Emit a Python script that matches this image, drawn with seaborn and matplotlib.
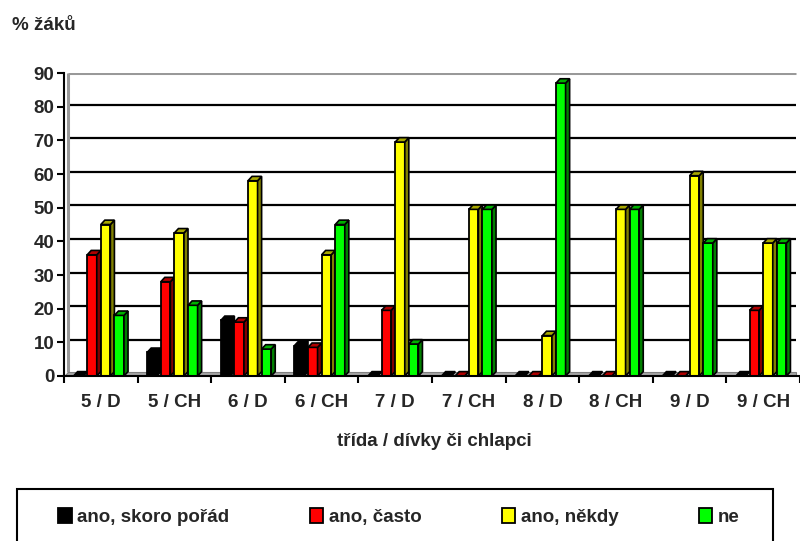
import numpy as np
import pandas as pd
import matplotlib
matplotlib.use("Agg")
import matplotlib.pyplot as plt
import seaborn as sns
from matplotlib.patches import Polygon, Rectangle

# data (% of pupils)
categories = ["5 / D", "5 / CH", "6 / D", "6 / CH", "7 / D",
              "7 / CH", "8 / D", "8 / CH", "9 / D", "9 / CH"]
series = ["ano, skoro pořád", "ano, často", "ano, někdy", "ne"]
skoro_porad = [0, 7, 16.5, 9, 0, 0, 0, 0, 0, 0]
casto = [36, 28, 16, 8.5, 19.5, 0, 0, 0, 0, 19.5]
nekdy = [45, 42.5, 58, 36, 69.5, 49.5, 12, 49.5, 59.5, 39.5]
ne = [18, 21, 8, 45, 9.5, 49.5, 87, 49.5, 39.5, 39.5]
yticks = list(range(0, 91, 10))

colors = ["#000000", "#FF0000", "#FFFF00", "#00FF00"]
top_colors = ["#000000", "#B00000", "#A8A800", "#00B000"]
side_colors = ["#000000", "#800000", "#808000", "#008000"]

df = pd.DataFrame({
    "trida": categories * 4,
    "odpoved": np.repeat(series, len(categories)),
    "pct": skoro_porad + casto + nekdy + ne,
})

sns.set_style("white")
plt.rcParams["font.family"] = ["Liberation Sans", "DejaVu Sans"]
plt.rcParams["font.weight"] = "bold"
fs = 13.5

fig = plt.figure(figsize=(8, 5.41), dpi=100)
ax = fig.add_axes([0.08, 0.305, 0.92, 0.56])

sns.barplot(data=df, x="trida", y="pct", hue="odpoved", hue_order=series,
            palette=colors, width=0.74, saturation=1, edgecolor="black",
            linewidth=1.3, ax=ax)

x0, x1 = -0.5, 9.446
dx, dy = 0.055, 1.3
ax.set_xlim(x0, x1)
ax.set_ylim(0, 90)

# 3d look: side and top faces for every bar
for i, cont in enumerate(ax.containers):
    for rect in cont:
        rect.set_zorder(3 + i)
        w = rect.get_width() - dx
        rect.set_width(w)
        x = rect.get_x()
        h = rect.get_height()
        side = Polygon([(x + w, 0), (x + w + dx, dy), (x + w + dx, h + dy), (x + w, h)],
                       closed=True, facecolor=side_colors[i], edgecolor="black",
                       linewidth=1.2, zorder=3.5 + i)
        top = Polygon([(x, h), (x + w, h), (x + w + dx, h + dy), (x + dx, h + dy)],
                      closed=True, facecolor=top_colors[i], edgecolor="black",
                      linewidth=1.2, zorder=3.5 + i)
        ax.add_patch(side)
        ax.add_patch(top)

# floor and back wall
ax.add_patch(Polygon([(x0, 0), (x1, 0), (x1, dy), (x0 + dx, dy)], closed=True,
                     facecolor="#A6A6A6", edgecolor="#808080", linewidth=0.8, zorder=2))
ax.hlines([v + dy * 0.5 for v in yticks[1:-1]], x0 + dx, x1, colors="black",
          linewidth=1.6, zorder=1)
ax.hlines(yticks[-1], x0 + dx, x1, colors="#999999", linewidth=2.2, zorder=1)
ax.vlines(x0 + dx, dy, yticks[-1], colors="#999999", linewidth=2.2, zorder=1)

ax.set_yticks(yticks)
ax.set_xticks(range(len(categories)))
ax.set_xticklabels(categories)
ax.set_xticks(np.arange(len(categories) + 1) - 0.5, minor=True)
ax.tick_params(axis="x", which="major", length=0, pad=13, labelsize=fs)
ax.tick_params(axis="x", which="minor", length=5, width=1.5, color="black", bottom=True)
ax.tick_params(axis="y", length=5, width=1.5, color="black", left=True, labelsize=fs, pad=2)
for lab in ax.get_xticklabels() + ax.get_yticklabels():
    lab.set_fontweight("bold")

for s in ["top", "right"]:
    ax.spines[s].set_visible(False)
ax.spines["left"].set_linewidth(1.5)
ax.spines["left"].set_color("black")
ax.spines["bottom"].set_linewidth(1.5)
ax.spines["bottom"].set_color("black")
ax.spines["bottom"].set_zorder(10)

ax.set_xlabel("")
ax.set_ylabel("")
fig.text(434 / 800, 1 - 442 / 541, "třída / dívky či chlapci", ha="center", va="center",
         fontsize=fs, fontweight="bold")
fig.text(12 / 800, 1 - 26 / 541, "% žáků", ha="left", va="center",
         fontsize=fs, fontweight="bold")

# legend
handles, labels = ax.get_legend_handles_labels()
ax.get_legend().remove()
fig.patches.append(Rectangle((17 / 800, -0.1), (773 - 17) / 800, 1 - 489 / 541 + 0.1,
                             transform=fig.transFigure, facecolor="white",
                             edgecolor="black", linewidth=1.5, clip_on=False))
leg = fig.legend(handles, labels, loc="center", ncol=4, frameon=False,
                 bbox_to_anchor=(399 / 800, 1 - 517 / 541), fontsize=fs,
                 handlelength=0.7, handleheight=0.8, handletextpad=0.3,
                 columnspacing=4.3)
for t in leg.get_texts():
    t.set_fontweight("bold")

fig.savefig("out.png", dpi=100)
